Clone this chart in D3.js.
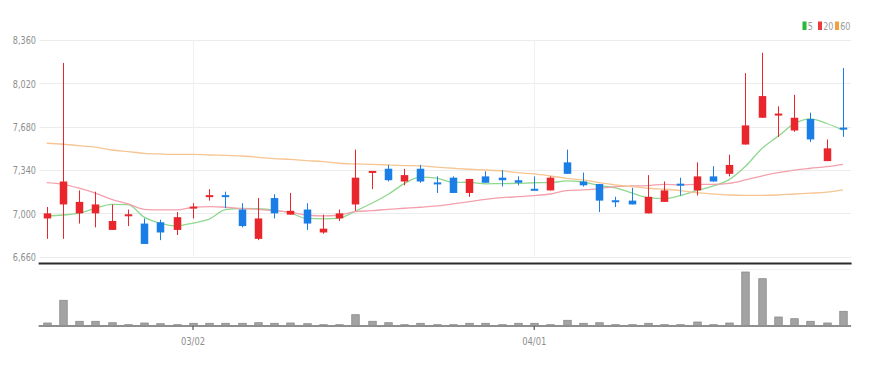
<!DOCTYPE html>
<html>
<head>
<meta charset="utf-8">
<script src="https://cdn.jsdelivr.net/npm/d3@7"></script>
<style>
  html, body { margin: 0; padding: 0; background: #fff; }
  svg { display: block; }
  text { font-family: "Liberation Sans Narrow", "DejaVu Sans Condensed", sans-serif; }
</style>
</head>
<body>
<svg id="chart" width="869" height="366"></svg>
<script>
// ---- data ----
const dates = [
  "2022-02-16","2022-02-17","2022-02-18","2022-02-21","2022-02-22","2022-02-23","2022-02-24","2022-02-25","2022-02-28",
  "2022-03-02","2022-03-03","2022-03-04","2022-03-07","2022-03-08","2022-03-10","2022-03-11","2022-03-14","2022-03-15",
  "2022-03-16","2022-03-17","2022-03-18","2022-03-21","2022-03-22","2022-03-23","2022-03-24","2022-03-25","2022-03-28",
  "2022-03-29","2022-03-30","2022-03-31","2022-04-01","2022-04-04","2022-04-05","2022-04-06","2022-04-07","2022-04-08",
  "2022-04-11","2022-04-12","2022-04-13","2022-04-14","2022-04-15","2022-04-18","2022-04-19","2022-04-20","2022-04-21",
  "2022-04-22","2022-04-25","2022-04-26","2022-04-27","2022-04-28"
];
const open  = [6960,7070,7000,7000,6870,6980,6920,6930,6870,7040,7130,7140,7030,6800,7120,6990,7030,6850,6960,7070,
               7320,7350,7250,7350,7240,7280,7160,7290,7280,7260,7190,7180,7400,7250,7230,7100,7100,7000,7090,7230,
               7180,7290,7310,7540,7750,7770,7650,7740,7410,7670];
const high  = [7050,8180,7180,7170,7070,7030,6960,6950,7010,7080,7190,7170,7080,7120,7150,7160,7080,6990,7030,7500,
               7330,7380,7350,7380,7290,7290,7270,7330,7340,7290,7290,7290,7500,7320,7230,7130,7200,7300,7250,7280,
               7400,7370,7460,8100,8260,7840,7930,7790,7580,8140];
const low   = [6800,6800,6920,6890,6870,6900,6760,6790,6830,6960,7100,7040,6890,6790,6960,6990,6870,6840,6940,7020,
               7190,7250,7220,7240,7160,7160,7130,7240,7210,7220,7180,7180,7310,7210,7010,7050,7070,7000,7090,7140,
               7140,7250,7290,7540,7750,7600,7640,7560,7410,7600];
const close = [7000,7250,7090,7070,6940,6990,6760,6850,6970,7050,7140,7130,6900,6960,7000,7020,6920,6880,7000,7280,
               7330,7260,7300,7250,7230,7160,7270,7240,7260,7240,7180,7280,7310,7220,7100,7090,7070,7130,7180,7220,
               7290,7250,7380,7690,7920,7780,7750,7580,7510,7660];
const volume = [60000,514000,94000,94000,66000,26000,60000,46000,26000,54000,54000,54000,54000,66000,54000,60000,46000,26000,26000,226000,
                94000,66000,26000,54000,26000,26000,54000,54000,26000,54000,54000,26000,114000,54000,66000,26000,26000,54000,26000,26000,
                80000,26000,60000,1080000,946000,180000,146000,94000,60000,294000];
const ma5  = [6980,6987,7001,7040,7070,7068,6970,6922,6902,6924,6954,7029,7038,7036,7026,7003,6960,6957,6963,7018,
              7079,7148,7233,7284,7276,7243,7244,7232,7234,7235,7240,7241,7255,7246,7218,7200,7160,7123,7115,7140,
              7179,7214,7265,7369,7507,7604,7704,7742,7705,7653];
const ma20 = [7241,7228,7197,7158,7110,7074,7032,7027,7027,7048,7053,7048,7037,7032,7021,7009,6987,6980,6987,7013,
              7021,7032,7040,7048,7058,7074,7092,7110,7123,7131,7139,7152,7178,7184,7194,7210,7215,7218,7228,7223,
              7228,7228,7236,7262,7293,7319,7340,7354,7366,7385];
const ma60 = [7550,7542,7531,7519,7497,7484,7471,7466,7463,7463,7458,7455,7450,7440,7429,7424,7414,7406,7393,7388,
              7385,7380,7375,7372,7362,7354,7346,7340,7333,7319,7309,7293,7275,7262,7241,7223,7210,7197,7189,7178,
              7162,7152,7144,7141,7141,7144,7152,7158,7166,7184];
const priceTicks = [6660,7000,7340,7680,8020,8360];
const dateTicks = ["2022-03-02","2022-04-01"];
const dateTickLabels = ["03/02","04/01"];
const maNames = ["5","20","60"];

// ---- styles ----
const UP = "#e8262c", DOWN = "#1b7ee6";
const maLineColors = ["#8fd88f","#f3a0ac","#f6c592"];
const maLegendColors = ["#27b83a","#ee3a3a","#f3a03a"];

const svg = d3.select("#chart");

const x = d3.scaleBand().domain(dates).range([38.6, 851.1]).paddingInner(0.55).paddingOuter(0.275);
const cx = d => x(d) + x.bandwidth() / 2;
const y = d3.scaleLinear().domain([6660, 8360]).range([256.7, 40]);
const yv = d3.scaleLinear().domain([0, 1120000]).range([326, 270]);

const L = 38.6, R = 851.1;

// grid
const grid = svg.append("g");
grid.selectAll("line.h").data(priceTicks).join("line")
  .attr("x1", L + 1).attr("x2", R).attr("y1", d => Math.round(y(d)) + 0.5).attr("y2", d => Math.round(y(d)) + 0.5)
  .attr("stroke", "#ececec").attr("stroke-width", 1);
grid.selectAll("line.v").data(dateTicks).join("line")
  .attr("x1", d => Math.round(cx(d)) + 0.5).attr("x2", d => Math.round(cx(d)) + 0.5)
  .attr("y1", y(8360)).attr("y2", y(6660))
  .attr("stroke", "#eef0f4").attr("stroke-width", 1);

// y axis labels
const yAxis = d3.axisLeft(y).tickValues(priceTicks).tickFormat(d3.format(",")).tickSize(0);
const ya = svg.append("g").attr("transform", "translate(36,0)").call(yAxis);
ya.select(".domain").remove();
ya.selectAll("text").attr("fill", "#8e8e8e").attr("font-size", 11)
  .attr("x", 0).attr("dy", "0.35em")
  .attr("transform", "scale(0.82,1)");

// separator line
svg.append("line").attr("x1", L).attr("x2", R + 0.5).attr("y1", 263.5).attr("y2", 263.5)
  .attr("stroke", "#2a2a2a").attr("stroke-width", 2);
svg.append("line").attr("x1", L + 1).attr("x2", R).attr("y1", 269.5).attr("y2", 269.5)
  .attr("stroke", "#f2f2f2").attr("stroke-width", 1);

// MA lines
[ma5, ma20, ma60].forEach((arr, k) => {
  const line = d3.line().x((d, i) => cx(dates[i])).y(d => y(d)).curve(d3.curveMonotoneX);
  svg.append("path").datum(arr).attr("d", line).attr("fill", "none")
    .attr("stroke", maLineColors[k]).attr("stroke-width", 1.3);
});

// candles
const cg = svg.append("g");
const cand = cg.selectAll("g").data(dates).join("g");
cand.append("line")
  .attr("x1", d => Math.round(cx(d)) + 0.5).attr("x2", d => Math.round(cx(d)) + 0.5)
  .attr("y1", (d, i) => y(high[i])).attr("y2", (d, i) => y(low[i]))
  .attr("stroke", (d, i) => close[i] >= open[i] ? UP : DOWN).attr("stroke-width", 1);
cand.append("rect")
  .attr("x", d => Math.round(cx(d)) + 0.5 - 3.75).attr("width", 7.5)
  .attr("y", (d, i) => {
    const t = y(Math.max(open[i], close[i])), b = y(Math.min(open[i], close[i]));
    return b - t < 2 ? (t + b) / 2 - 1 : t;
  })
  .attr("height", (d, i) => Math.max(2, y(Math.min(open[i], close[i])) - y(Math.max(open[i], close[i]))))
  .attr("fill", (d, i) => close[i] >= open[i] ? UP : DOWN);

// volume
svg.append("g").selectAll("rect").data(dates).join("rect")
  .attr("x", d => Math.round(cx(d)) + 0.5 - 3.75).attr("width", 7.5)
  .attr("y", (d, i) => yv(volume[i])).attr("height", (d, i) => yv(0) - yv(volume[i]))
  .attr("fill", "#a3a3a3").attr("stroke", "#8a8a8a").attr("stroke-width", 0.8);
svg.append("line").attr("x1", L).attr("x2", R).attr("y1", yv(0)).attr("y2", yv(0))
  .attr("stroke", "#8f8f8f").attr("stroke-width", 2);

// x axis
const xAxis = d3.axisBottom(x).tickValues(dateTicks)
  .tickFormat(d => dateTickLabels[dateTicks.indexOf(d)]).tickSize(4).tickPadding(7);
const xa = svg.append("g").attr("transform", `translate(0,${yv(0)})`).call(xAxis);
xa.select(".domain").remove();
xa.selectAll(".tick line").attr("stroke", "#555").attr("stroke-width", 1.2);
xa.selectAll("text").attr("fill", "#8e8e8e").attr("font-size", 11)
  .attr("transform", "scale(0.85,1)");

// legend
const legRectX = [802.5, 818, 835];
maNames.forEach((n, k) => {
  svg.append("rect").attr("x", legRectX[k]).attr("y", 21.5).attr("width", 4).attr("height", 8.5)
    .attr("fill", maLegendColors[k]);
  svg.append("text").attr("x", 0).attr("y", 0).attr("font-size", 11).attr("fill", "#9a9a9a")
    .attr("transform", `translate(${legRectX[k] + 5.2},30) scale(0.82,1)`).text(n);
});
</script>
</body>
</html>
